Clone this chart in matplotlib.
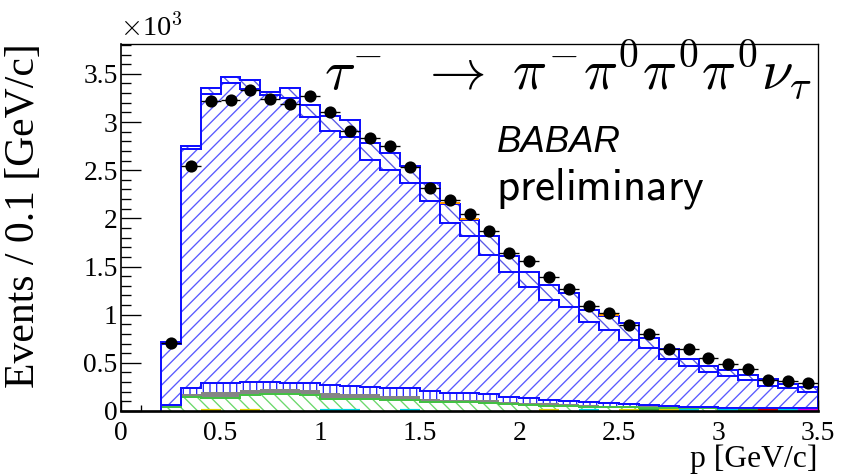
import numpy as np
import matplotlib.pyplot as plt
from matplotlib.ticker import MultipleLocator, FuncFormatter

plt.rcParams['mathtext.fontset'] = 'cm'
plt.rcParams['hatch.linewidth'] = 0.8

# momentum bins, 0.1 GeV/c wide
edges = np.round(np.arange(0.2, 3.55, 0.1), 2)
centers = 0.5 * (edges[:-1] + edges[1:])

# data, in units of 10^3 events per bin
data = [0.704, 2.547, 3.215, 3.233, 3.337, 3.240, 3.188, 3.274, 3.105, 2.903,
        2.835, 2.747, 2.528, 2.315, 2.193, 2.040, 1.871, 1.639, 1.562, 1.396,
        1.271, 1.091, 1.016, 0.894, 0.804, 0.645, 0.645, 0.548, 0.489, 0.433,
        0.322, 0.315, 0.288]

# MC components, bottom of the stack first (10^3 events)
bkg_green = [0.040, 0.145, 0.139, 0.139, 0.166, 0.173, 0.173, 0.166, 0.125, 0.121,
             0.121, 0.114, 0.114, 0.097, 0.090, 0.090, 0.086, 0.073, 0.062, 0.055,
             0.052, 0.045, 0.042, 0.038, 0.035, 0.032, 0.030, 0.027, 0.025, 0.022,
             0.020, 0.018, 0.016]
bkg_gray = [0.010, 0.028, 0.061, 0.061, 0.052, 0.052, 0.052, 0.052, 0.059, 0.052,
            0.052, 0.042, 0.042, 0.028, 0.024, 0.024, 0.024, 0.024, 0.024, 0.025,
            0.018, 0.017, 0.013, 0.014, 0.013, 0.012, 0.010, 0.009, 0.008, 0.008,
            0.007, 0.006, 0.006]
bkg_vert = [0.010, 0.063, 0.088, 0.088, 0.083, 0.076, 0.063, 0.070, 0.083, 0.087,
            0.080, 0.087, 0.080, 0.083, 0.077, 0.077, 0.063, 0.052, 0.046, 0.034,
            0.034, 0.035, 0.031, 0.021, 0.014, 0.011, 0.005, 0.004, 0.003, 0.003,
            0.003, 0.004, 0.004]
signal = [0.640, 2.484, 3.002, 3.112, 3.043, 2.984, 2.962, 2.765, 2.644, 2.585,
          2.356, 2.255, 2.131, 1.968, 1.760, 1.621, 1.449, 1.289, 1.160, 1.040,
          0.980, 0.831, 0.756, 0.665, 0.590, 0.482, 0.425, 0.370, 0.324, 0.287,
          0.230, 0.212, 0.174]
bkg_upper = [0.015, 0.035, 0.064, 0.069, 0.090, 0.028, 0.104, 0.121, 0.156, 0.173,
             0.174, 0.181, 0.173, 0.191, 0.201, 0.173, 0.190, 0.166, 0.156, 0.156,
             0.139, 0.122, 0.146, 0.180, 0.104, 0.104, 0.070, 0.060, 0.070, 0.050,
             0.070, 0.040, 0.050]
bkg_orange = [0, 0, 0, 0, 0, 0, 0, 0, 0, 0, 0, 0, 0, 0, 0.010, 0.010, 0, 0, 0, 0,
              0, 0, 0.010, 0, 0, 0, 0, 0, 0, 0, 0, 0, 0]

# tiny components only visible as coloured lines on the axis
tiny_bins = [2, 4, 8, 9, 12, 19, 21, 23, 24, 25, 26, 28, 29, 30, 31, 32]
tiny_colors = ['#e0d000', '#e0d000', '#00d0e0', '#00d0e0', '#00d0e0', '#e0d000',
               '#00d0e0', '#e0d000', '#30a030', '#e0d000', '#00d0e0', '#00d0e0',
               '#30a030', '#d00000', '#00d0e0', '#e000e0']
tiny_height = 0.012

components = [
    # values, hatch, hatch colour, fill, outline colour
    (bkg_green, '\\\\\\', '#6cd86c', 'white', '#44c044'),
    (bkg_gray, None, '#858585', '#858585', None),
    (bkg_vert, '|||', '#2a2aff', 'white', '#1010ff'),
    (signal, '///', '#5a5aff', 'white', '#1010ff'),
    (bkg_upper, '\\\\\\', '#5a5ae6', 'white', '#1010ff'),
]

fig = plt.figure(figsize=(841 / 120, 474 / 120), dpi=120)
ax = fig.add_axes([121 / 841, 63 / 474, 697 / 841, 367 / 474])

bottom = np.zeros(len(centers))
tops = []
for vals, hatch, hcol, fcol, lcol in components:
    top = bottom + np.array(vals)
    ax.stairs(top, edges, baseline=bottom, fill=True, facecolor=fcol,
              edgecolor=hcol, hatch=hatch, linewidth=0, zorder=2)
    if lcol:
        tops.append((top, lcol))
    bottom = top

# outlines drawn after all fills so the hatching does not cover them
for top, lcol in tops:
    ax.stairs(top, edges, baseline=0, color=lcol, linewidth=1.2, zorder=3)

# thin orange component sitting on top of the stack
for i, v in enumerate(bkg_orange):
    if v > 0:
        ax.plot(edges[i:i + 2], [bottom[i] + v] * 2, color='#ff9900', lw=1.2,
                zorder=3, solid_capstyle='butt')

for b, c in zip(tiny_bins, tiny_colors):
    ax.plot(edges[b:b + 2], [tiny_height, tiny_height], color=c, lw=1.3, zorder=4,
            solid_capstyle='butt')

ax.errorbar(centers, data, xerr=0.05, fmt='o', color='black', ms=6.3,
            elinewidth=0.8, capsize=0, zorder=5)

ax.set_xlim(0, 3.5)
ax.set_ylim(0, 3.81)

fmt = FuncFormatter(lambda v, _: f'{v:g}')
for axis in (ax.xaxis, ax.yaxis):
    axis.set_major_locator(MultipleLocator(0.5))
    axis.set_minor_locator(MultipleLocator(0.1))
    axis.set_major_formatter(fmt)
ax.tick_params(which='both', direction='in', top=False, right=False, width=0.8)
ax.tick_params(axis='x', which='major', length=6.6, pad=6)
ax.tick_params(axis='x', which='minor', length=3.6)
ax.tick_params(axis='y', which='major', length=12, pad=2)
ax.tick_params(axis='y', which='minor', length=6)
for lab in ax.get_xticklabels() + ax.get_yticklabels():
    lab.set_fontfamily('Liberation Serif')
    lab.set_fontsize(16.5)

for side in ('top', 'right'):
    ax.spines[side].set_linewidth(0.8)
ax.spines['left'].set_linewidth(1.0)
ax.spines['bottom'].set_linewidth(1.6)
for s in ax.spines.values():
    s.set_zorder(6)

fig.text(120 / 841, 1 - 36 / 474, r'$\times$10$^{3}$', family='Liberation Serif',
         fontsize=17, ha='left', va='baseline')
fig.text(43 / 841, 1 - 43 / 474, 'Events / 0.1 [GeV/c]', family='Liberation Serif',
         fontsize=25, rotation=90, ha='right', va='top')
fig.text(818 / 841, 1 - 467 / 474, 'p [GeV/c]', family='Liberation Serif',
         fontsize=19, ha='right', va='baseline')

ax.text(1.02, 3.337,
        r'$\tau^{-}\ \ \rightarrow\ \pi^{-}\pi^{0}\pi^{0}\pi^{0}\nu_{\tau}$',
        fontsize=34, ha='left', va='baseline', zorder=7)
ax.text(1.888, 2.692, 'BABAR', family='Liberation Sans', style='italic',
        fontsize=22, ha='left', va='baseline', zorder=7)
ax.text(1.883, 2.193, r'$\mathsf{preliminary}$', fontsize=27, ha='left',
        va='baseline', zorder=7)

fig.savefig('out.png', dpi=120)
